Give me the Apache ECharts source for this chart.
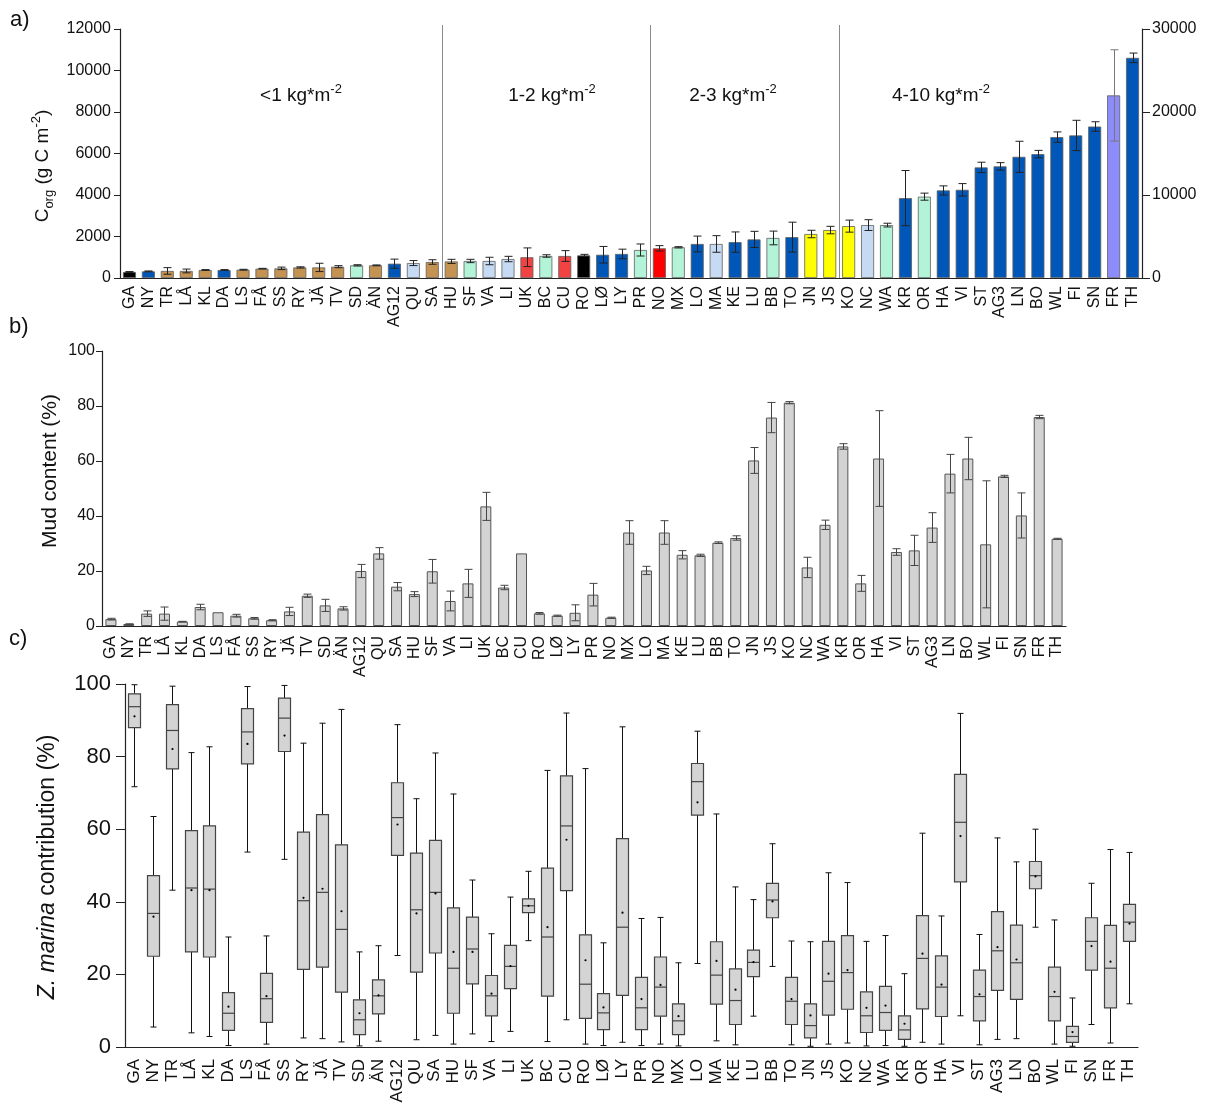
<!DOCTYPE html>
<html><head><meta charset="utf-8">
<script src="https://cdn.jsdelivr.net/npm/echarts@6/dist/echarts.min.js"></script>
<style>html,body{margin:0;padding:0;background:#fff}#c{width:1209px;height:1112px}</style>
</head><body><div id="c"></div>
<script>
// ---------- DATA ----------
const sites = ['GA','NY','TR','LÅ','KL','DA','LS','FÅ','SS','RY','JÄ','TV','SD','ÄN','AG12','QU','SA','HU','SF','VA','LI','UK','BC','CU','RO','LØ','LY','PR','NO','MX','LO','MA','KE','LU','BB','TO','JN','JS','KO','NC','WA','KR','OR','HA','VI','ST','AG3','LN','BO','WL','FI','SN','FR','TH'];

// panel a: Corg stock (g C m-2), mean and error
const corgMean = [290,320,340,340,385,385,400,450,465,510,510,545,610,610,690,720,770,800,820,820,915,1000,1060,1060,1090,1120,1160,1350,1430,1480,1640,1640,1730,1860,1930,1970,2120,2310,2500,2550,2550,3850,3920,4220,4250,5330,5380,5840,5970,6790,6870,7300,8800,10610];
const corgErr  = [20,20,160,90,20,20,20,15,60,30,200,50,30,20,220,120,110,100,80,180,130,450,60,260,50,400,230,290,130,30,380,400,490,390,330,720,180,180,290,260,90,1330,170,220,300,250,180,750,180,250,730,230,2200,230];
// colour class of each site
const corgClass = ['k','b','t','t','t','b','t','t','t','t','t','t','m','t','b','lb','t','t','m','lb','lb','r','m','r','k','b','b','m','R','m','b','lb','b','b','m','b','y','y','y','lb','m','b','m','b','b','b','b','b','b','b','b','b','p','b'];
const groupLast = ['SA','PR','JS'];           // last site of each stock class
const groupNames = ['<1 kg*m','1-2 kg*m','2-3 kg*m','4-10 kg*m'];

// panel b: mud content (%)
const mudMean = [2.5,0.7,4.5,4.5,1.6,6.9,5.0,3.75,2.8,2.1,5.3,11.0,7.5,6.4,20.0,26.4,14.3,11.6,19.9,9.1,15.5,43.5,14.0,26.4,4.6,3.75,4.8,11.4,3.0,34.0,20.2,34.0,25.9,25.7,30.3,32.0,60.2,75.8,81.2,21.3,36.8,65.3,15.5,60.9,26.9,27.5,35.8,55.4,60.9,29.7,54.4,40.2,76.0,31.7];
const mudErr  = [0.3,0.1,1.0,2.4,0.1,1.0,0,0.5,0.3,0.2,1.5,0.6,2.2,0.6,2.4,2.1,1.5,0.9,4.3,3.6,5.1,5.1,0.8,0,0.3,0.2,2.9,4.1,0.2,4.3,1.5,4.3,1.5,0.4,0.3,0.8,4.7,5.5,0.4,3.7,1.7,1.0,2.9,17.4,1.2,5.5,5.4,7.0,7.7,23.1,0.4,8.2,0.6,0.2];

// panel c: Z. marina contribution (%)
const zmMin  = [71.7,5.5,43.2,3.9,2.9,0.4,53.7,0.8,51.7,2.5,2.3,1.4,0.3,1.6,25.2,2.0,3.2,0.8,3.6,1.5,4.3,29.3,1.5,7.5,0.8,0.4,1.3,0.4,0.8,0.3,23.0,1.7,0.6,8.5,22.2,0.6,0.2,0.8,1.1,0.3,0.4,0.2,1.3,0.8,8.6,0.6,2.1,2.3,33.0,0.8,0.2,6.2,1.1,11.9];
const zmQ1   = [88.0,25.0,76.6,26.2,24.8,4.6,78.0,6.8,81.4,21.4,22.0,15.1,3.4,9.1,52.8,20.6,25.9,9.3,17.4,8.6,16.1,37.0,14.0,43.1,7.9,4.8,14.2,4.8,8.5,3.4,63.9,11.8,6.2,19.4,35.6,6.2,2.5,8.8,10.4,4.0,4.6,2.1,10.5,8.4,45.5,7.2,15.6,13.1,43.6,7.2,1.3,21.2,10.8,29.1];
const zmMed  = [93.75,36.8,87.2,43.8,43.5,9.3,86.8,13.3,90.6,40.3,42.6,32.4,7.5,14.1,63.2,37.8,42.6,21.7,27.0,14.1,22.2,38.9,30.3,60.9,17.3,9.4,33.0,10.8,16.5,7.2,73.1,19.8,12.8,23.3,40.5,12.6,5.9,18.1,20.5,8.6,9.5,4.7,24.4,16.5,61.9,13.9,26.5,23.2,47.2,13.9,2.9,29.1,21.7,34.4];
const zmQ3   = [97.3,47.2,94.3,59.6,60.9,15.0,93.2,20.3,96.1,59.2,64.0,55.7,13.0,18.5,72.8,53.4,56.9,38.3,35.8,19.7,28.0,40.8,49.3,74.7,30.9,14.7,57.4,19.2,24.8,11.9,78.1,29.0,21.5,26.7,45.1,19.2,11.9,29.1,30.7,15.2,16.7,8.6,36.2,25.1,75.1,21.2,37.3,33.6,51.1,22.0,5.7,35.6,33.5,39.3];
const zmMax  = [99.8,63.5,99.4,81.1,82.7,30.3,99.3,30.6,99.6,83.7,89.2,93.0,26.2,27.9,88.8,68.4,81.0,69.7,46.0,31.2,41.3,48.4,76.2,92.0,76.7,28.7,88.2,35.4,35.7,23.2,87.0,64.2,44.1,40.6,56.0,29.2,29.0,48.0,45.3,29.1,30.7,20.2,58.9,36.1,91.9,31.0,57.6,51.0,60.0,35.0,13.5,45.1,54.4,53.6];
const zmMean = [91.1,35.9,82.1,43.2,43.2,11.1,83.5,14.0,85.8,41.1,43.6,37.4,9.3,14.2,61.3,36.8,42.3,26.2,26.2,14.7,22.3,38.9,33.0,57.1,23.9,10.9,37.0,13.2,17.1,8.5,67.4,23.7,15.8,23.4,40.1,13.2,8.7,20.2,21.2,10.8,11.4,6.4,25.7,17.2,58.1,14.5,27.5,24.1,47.0,15.2,4.1,27.8,23.5,34.0];

// ---------- STYLE ----------
const FONT = 'Liberation Sans, Arial, sans-serif';
const palette = {k:'#000000', b:'#0057b7', t:'#c49352', m:'#b3f3d8', lb:'#c6daf4', r:'#f24343', R:'#ff0000', y:'#ffff00', p:'#8c8cfa'};

const chart = echarts.init(document.getElementById('c'), null, {renderer:'canvas'});

function errRender(capHalf, colorFn){
  return function(params, api){
    const i = api.value(0), m = api.value(1), e = api.value(2);
    if (!(e > 0)) return null;
    const top = api.coord([i, m + e]), bot = api.coord([i, m - e]);
    const x = Math.round(top[0]) + 0.5;
    const st = {stroke: colorFn(params.dataIndex), lineWidth: 1};
    return {type:'group', children:[
      {type:'line', shape:{x1:x, y1:top[1], x2:x, y2:bot[1]}, style:st},
      {type:'line', shape:{x1:x-capHalf, y1:top[1], x2:x+capHalf, y2:top[1]}, style:st},
      {type:'line', shape:{x1:x-capHalf, y1:bot[1], x2:x+capHalf, y2:bot[1]}, style:st}
    ]};
  };
}

function boxRender(params, api){
  const i = api.value(0);
  const lo = api.coord([i, api.value(1)]);
  const q1 = api.coord([i, api.value(2)]);
  const md = api.coord([i, api.value(3)]);
  const q3 = api.coord([i, api.value(4)]);
  const hi = api.coord([i, api.value(5)]);
  const mn = api.coord([i, api.value(6)]);
  const x = Math.round(lo[0]) + 0.5;
  const hw = 6, cw = 3;
  const wst = {stroke:'#111', lineWidth:1};
  const bst = {stroke:'#444', lineWidth:1.2};
  return {type:'group', children:[
    {type:'line', shape:{x1:x, y1:hi[1], x2:x, y2:q3[1]}, style:wst},
    {type:'line', shape:{x1:x, y1:q1[1], x2:x, y2:lo[1]}, style:wst},
    {type:'line', shape:{x1:x-cw, y1:hi[1], x2:x+cw, y2:hi[1]}, style:wst},
    {type:'line', shape:{x1:x-cw, y1:lo[1], x2:x+cw, y2:lo[1]}, style:wst},
    {type:'rect', shape:{x:x-hw, y:q3[1], width:2*hw, height:q1[1]-q3[1]}, style:{fill:'#d4d4d4', stroke:'#444', lineWidth:1.2}},
    {type:'line', shape:{x1:x-hw, y1:md[1], x2:x+hw, y2:md[1]}, style:bst},
    {type:'circle', shape:{cx:x, cy:mn[1], r:1.1}, style:{fill:'#000'}}
  ]};
}

function sepRender(params, api){
  const idx = api.value(0);
  const c = api.coord([idx, 0]);
  const t = api.coord([idx, 12000]);
  const x = Math.round(c[0] + api.size([1, 0])[0] / 2) + 0.5;
  return {type:'line', shape:{x1:x, y1:t[1]-4, x2:x, y2:c[1]}, style:{stroke:'#8a8a8a', lineWidth:1}};
}

const catAxis = (grid, fs, margin) => ({
  type:'category', gridIndex:grid, data:sites, boundaryGap:true,
  axisLine:{show:true, lineStyle:{color:'#222', width:1.2}},
  axisTick:{show:false},
  axisLabel:{interval:0, rotate:90, fontSize:fs, color:'#111', fontFamily:FONT, margin:margin}
});
const valAxis = (grid, min, max, interval, fs, margin, tick, pos) => ({
  type:'value', gridIndex:grid, min:min, max:max, interval:interval, position:pos||'left',
  axisLine:{show:true, lineStyle:{color:'#222', width:1.2}},
  axisTick:{show:true, length:tick, lineStyle:{color:'#222'}},
  splitLine:{show:false},
  axisLabel:{fontSize:fs, color:'#111', fontFamily:FONT, margin:margin, formatter: v => String(v)}
});

const sup = {fontSize:13, verticalAlign:'top', lineHeight:13, fontFamily:FONT, fill:'#111'};

const groupX = [301, 552, 733, 941];

const option = {
  animation:false,
  backgroundColor:'#fff',
  textStyle:{fontFamily:FONT},
  grid:[
    {left:120, top:29, width:1022, height:249},
    {left:102, top:351, width:964, height:275},
    {left:125, top:684, width:1013, height:363}
  ],
  xAxis:[ catAxis(0, 16, 8), catAxis(1, 16, 10), catAxis(2, 17, 12) ],
  yAxis:[
    valAxis(0, 0, 12000, 2000, 16, 9, 6),
    valAxis(0, 0, 30000, 10000, 16, 10, 8, 'right'),
    valAxis(1, 0, 100, 20, 16, 7, 6),
    valAxis(2, 0, 100, 20, 22, 14, 9)
  ],
  series:[
    {type:'bar', xAxisIndex:0, yAxisIndex:0, barWidth:13, z:2,
     data: corgMean.map((v,i)=>({value:v, itemStyle:{color:palette[corgClass[i]], borderColor:'#606060', borderWidth:0.8}}))},
    {type:'custom', xAxisIndex:0, yAxisIndex:0, z:5, renderItem: errRender(4, i => corgClass[i]==='p' ? '#777' : '#222'),
     encode:{x:0, y:1}, data: corgMean.map((v,i)=>[i, v, corgErr[i]])},
    {type:'custom', xAxisIndex:0, yAxisIndex:0, z:1, renderItem: sepRender, encode:{x:0, y:1},
     data: groupLast.map(s => [sites.indexOf(s), 0])},
    {type:'bar', xAxisIndex:1, yAxisIndex:2, barWidth:11, z:2,
     itemStyle:{color:'#d3d3d3', borderColor:'#555', borderWidth:1},
     data: mudMean},
    {type:'custom', xAxisIndex:1, yAxisIndex:2, z:5, renderItem: errRender(4, () => '#444'),
     encode:{x:0, y:1}, data: mudMean.map((v,i)=>[i, v, mudErr[i]])},
    {type:'custom', xAxisIndex:2, yAxisIndex:3, z:3, renderItem: boxRender,
     encode:{x:0, y:[1,2,3,4,5]},
     data: sites.map((s,i)=>[i, zmMin[i], zmQ1[i], zmMed[i], zmQ3[i], zmMax[i], zmMean[i]])}
  ],
  graphic:[
    {type:'text', left:10, top:9, style:{text:'a)', font:'22px '+FONT, fill:'#111'}},
    {type:'text', left:9, top:316, style:{text:'b)', font:'22px '+FONT, fill:'#111'}},
    {type:'text', left:9, top:628, style:{text:'c)', font:'22px '+FONT, fill:'#111'}},
    {type:'text', x:43, y:166, rotation:Math.PI/2,
     style:{text:'{b|C}{s|org}{b| (g C m}{p|-2}{b|)}', align:'center', verticalAlign:'middle',
       rich:{b:{fontSize:19, lineHeight:26, fontFamily:FONT, fill:'#111'},
             s:{fontSize:13, verticalAlign:'bottom', lineHeight:13, fontFamily:FONT, fill:'#111'},
             p:sup}}},
    {type:'text', x:50, y:471, rotation:Math.PI/2,
     style:{text:'Mud content (%)', align:'center', verticalAlign:'middle', font:'21px '+FONT, fill:'#111'}},
    {type:'text', x:48, y:867, rotation:Math.PI/2,
     style:{text:'{i|Z. marina}{n| contribution (%)}', align:'center', verticalAlign:'middle',
       rich:{i:{fontSize:23, fontStyle:'italic', fontFamily:FONT, fill:'#111'},
             n:{fontSize:23, fontFamily:FONT, fill:'#111'}}}}
  ].concat(groupNames.map((g,k)=>({
    type:'text', x:groupX[k], y:96,
    style:{text:'{b|'+g+'}{p|-2}', align:'center', verticalAlign:'middle',
      rich:{b:{fontSize:19, lineHeight:26, fontFamily:FONT, fill:'#111'}, p:sup}}
  })))
};
chart.setOption(option);
</script>
</body></html>
